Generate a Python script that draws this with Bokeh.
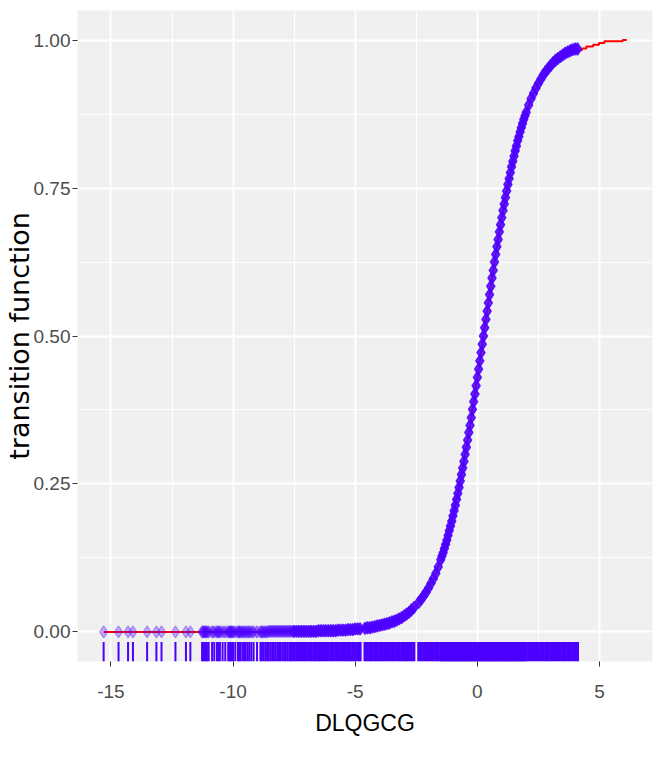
from bokeh.plotting import figure
from bokeh.models import Range1d, FixedTicker, NumeralTickFormatter, ColumnDataSource
from bokeh.embed import file_html
from bokeh.resources import INLINE

# ---------------- data ----------------
x_ticks = [-15, -10, -5, 0, 5]
x_tick_labels = ["-15", "-10", "-5", "0", "5"]
x_minor = [-12.5, -7.5, -2.5, 2.5]
y_ticks = [0.0, 0.25, 0.5, 0.75, 1.0]
y_tick_labels = ["0.00", "0.25", "0.50", "0.75", "1.00"]
y_minor = [0.125, 0.375, 0.625, 0.875]

# observations: left, sparse part (transition value ~ 0)
obs_x_left = [-15.30, -14.69, -14.30, -14.10, -13.52, -13.14, -12.93, -12.36, -11.93, -11.75,
              -11.27, -11.22, -11.17, -11.12, -11.07, -11.00, -10.86, -10.77, -10.66, -10.60,
              -10.54, -10.43, -10.32, -10.20, -10.15, -10.10, -10.05, -10.00, -9.91, -9.80,
              -9.75, -9.70, -9.62, -9.55, -9.48, -9.40, -9.33, -9.25, -9.16, -9.02,
              -8.88, -8.82, -8.75, -8.68, -8.61, -8.54, -8.47, -8.40, -8.33, -8.26,
              -8.19, -8.12, -8.05, -7.98, -7.91, -7.84, -7.77, -7.70, -7.63, -7.56]
obs_y_left = [0.000, 0.000, 0.000, 0.000, 0.000, 0.000, 0.000, 0.000, 0.000, 0.000,
              0.000, 0.000, 0.000, 0.000, 0.000, 0.000, 0.000, 0.000, 0.000, 0.000,
              0.000, 0.000, 0.000, 0.000, 0.000, 0.000, 0.000, 0.000, 0.000, 0.000,
              0.000, 0.000, 0.000, 0.000, 0.000, 0.000, 0.000, 0.000, 0.000, 0.000,
              0.000, 0.000, 0.000, 0.000, 0.000, 0.001, 0.001, 0.001, 0.001, 0.001,
              0.001, 0.001, 0.001, 0.001, 0.001, 0.001, 0.001, 0.001, 0.001, 0.001]

# observations: lower bend
obs_x_low = [-7.5, -7.4, -7.3, -7.2, -7.1, -7.0, -6.9, -6.8, -6.7, -6.6,
             -6.5, -6.4, -6.3, -6.2, -6.1, -6.0, -5.9, -5.8, -5.7, -5.6,
             -5.5, -5.4, -5.3, -5.2, -5.1, -5.0, -4.9, -4.8, -4.6, -4.5,
             -4.4, -4.3, -4.2, -4.1, -4.0, -3.9, -3.8, -3.7, -3.6, -3.5,
             -3.4, -3.3, -3.2, -3.1, -3.0, -2.9, -2.8, -2.7, -2.6, -2.4,
             -2.3, -2.2, -2.1, -2.0, -1.9, -1.8, -1.7, -1.6, -1.5]
obs_y_low = [0.001, 0.001, 0.001, 0.001, 0.001, 0.001, 0.001, 0.001, 0.001, 0.001,
             0.002, 0.002, 0.002, 0.002, 0.002, 0.002, 0.002, 0.002, 0.003, 0.003,
             0.003, 0.003, 0.004, 0.004, 0.004, 0.005, 0.005, 0.005, 0.006, 0.007,
             0.007, 0.008, 0.009, 0.010, 0.011, 0.012, 0.013, 0.014, 0.015, 0.017,
             0.018, 0.020, 0.022, 0.024, 0.027, 0.030, 0.033, 0.037, 0.041, 0.050,
             0.055, 0.061, 0.067, 0.074, 0.082, 0.090, 0.099, 0.110, 0.122]

# observations: steep middle part
obs_x_mid = [-1.45, -1.40, -1.35, -1.30, -1.25, -1.20, -1.15, -1.10, -1.05, -1.00,
             -0.95, -0.90, -0.85, -0.80, -0.75, -0.70, -0.65, -0.60, -0.55, -0.50,
             -0.45, -0.40, -0.35, -0.30, -0.25, -0.20, -0.15, -0.10, -0.05, 0.00,
             0.05, 0.10, 0.15, 0.20, 0.25, 0.30, 0.35, 0.40, 0.45, 0.50,
             0.55, 0.60, 0.65, 0.70, 0.75, 0.80, 0.85, 0.90, 0.95, 1.00,
             1.05, 1.10, 1.15, 1.20, 1.25, 1.30, 1.35, 1.40, 1.45, 1.50,
             1.55, 1.60, 1.65, 1.70, 1.75, 1.80, 1.85, 1.90, 1.95]
obs_y_mid = [0.128, 0.134, 0.141, 0.148, 0.155, 0.163, 0.171, 0.179, 0.187, 0.196,
             0.205, 0.214, 0.224, 0.234, 0.244, 0.255, 0.266, 0.277, 0.288, 0.300,
             0.312, 0.324, 0.337, 0.349, 0.362, 0.376, 0.389, 0.402, 0.416, 0.430,
             0.444, 0.458, 0.472, 0.486, 0.500, 0.514, 0.528, 0.542, 0.556, 0.570,
             0.584, 0.598, 0.611, 0.625, 0.638, 0.651, 0.663, 0.676, 0.688, 0.700,
             0.712, 0.723, 0.734, 0.745, 0.756, 0.766, 0.776, 0.786, 0.795, 0.804,
             0.813, 0.821, 0.830, 0.837, 0.845, 0.852, 0.859, 0.866, 0.872]

# observations: upper bend
obs_x_high = [2.0, 2.1, 2.2, 2.3, 2.4, 2.5, 2.6, 2.7, 2.8, 2.9, 3.0,
              3.1, 3.2, 3.3, 3.4, 3.5, 3.6, 3.7, 3.8, 3.9, 4.0, 4.1]
obs_y_high = [0.878, 0.890, 0.901, 0.910, 0.919, 0.927, 0.934, 0.941, 0.947, 0.952, 0.957,
              0.962, 0.966, 0.969, 0.972, 0.975, 0.978, 0.980, 0.982, 0.984, 0.985, 0.985]

# fitted transition curve (red line)
curve_x = [-15.30, -11.30, -9.00, -7.50, -6.50, -5.50, -5.00, -4.50, -4.00, -3.50,
           -3.00, -2.50, -2.00, -1.75, -1.50, -1.25, -1.00, -0.75, -0.50, -0.25,
           0.00, 0.25, 0.50, 0.75, 1.00, 1.25, 1.50, 1.75, 2.00, 2.25,
           2.50, 2.75, 3.00, 3.50, 4.10, 4.28, 4.28, 4.46, 4.46, 4.74,
           4.74, 4.98, 4.98, 5.20, 5.20, 5.95, 5.95, 6.12]
curve_y = [0.000, 0.000, 0.000, 0.001, 0.002, 0.003, 0.005, 0.007, 0.011, 0.017,
           0.027, 0.045, 0.074, 0.094, 0.122, 0.155, 0.196, 0.244, 0.300, 0.362,
           0.430, 0.500, 0.570, 0.638, 0.700, 0.756, 0.804, 0.845, 0.878, 0.905,
           0.927, 0.944, 0.957, 0.975, 0.983, 0.983, 0.986, 0.986, 0.989, 0.989,
           0.992, 0.992, 0.995, 0.995, 0.998, 0.998, 1.000, 1.000]

x_label = "DLQGCG"
y_label = "transition function"

# ---------------- styling ----------------
PURPLE = "#4C00FF"
TICK_FONT = "Liberation Sans"

obs_x = obs_x_left + obs_x_low + obs_x_mid + obs_x_high
obs_y = obs_y_left + obs_y_low + obs_y_mid + obs_y_high

# marker opacity: isolated points look light, dense regions saturate
alphas = [0.3 if xx < -11.3 else (0.45 if xx < -7.5 else 0.85) for xx in obs_x]
rug_w = [2 if xx < -7.5 else 3 for xx in obs_x]

y_lo, y_hi = -0.05, 1.05
rug_len = 0.033
src = ColumnDataSource(dict(x=obs_x, y=obs_y, a=alphas, w=rug_w,
                            r0=[y_lo] * len(obs_x), r1=[y_lo + rug_len] * len(obs_x)))

p = figure(width=664, height=761,
           x_range=Range1d(-16.37, 7.17), y_range=Range1d(y_lo, y_hi),
           output_backend="svg", toolbar_location=None,
           min_border_left=77, min_border_right=12, min_border_top=10, min_border_bottom=100)

p.background_fill_color = "#F0F0F0"
p.border_fill_color = "white"
p.outline_line_color = None

p.xaxis.ticker = FixedTicker(ticks=x_ticks, minor_ticks=x_minor)
p.yaxis.ticker = FixedTicker(ticks=y_ticks, minor_ticks=y_minor)
p.xaxis.major_label_overrides = {t: l for t, l in zip(x_ticks, x_tick_labels)}
p.yaxis.formatter = NumeralTickFormatter(format="0.00")
p.yaxis.major_label_overrides = {t: l for t, l in zip(y_ticks, y_tick_labels)}

for g in (p.xgrid, p.ygrid):
    g.grid_line_color = "white"
    g.grid_line_width = 2
    g.minor_grid_line_color = "white"
    g.minor_grid_line_width = 1

for ax in (p.xaxis, p.yaxis):
    ax.axis_line_color = None
    ax.major_tick_line_color = "#333333"
    ax.major_tick_line_width = 1
    ax.major_tick_out = 5
    ax.major_tick_in = 0
    ax.minor_tick_out = 0
    ax.minor_tick_in = 0
    ax.major_label_text_font = TICK_FONT
    ax.major_label_text_font_size = "19px"
    ax.major_label_text_color = "#4D4D4D"
    ax.axis_label_text_font_style = "normal"
    ax.axis_label_text_color = "black"

p.xaxis.axis_label = x_label
p.xaxis.axis_label_text_font = "Liberation Sans"
p.xaxis.axis_label_text_font_size = "23px"
p.xaxis.major_label_standoff = 18
p.xaxis.axis_label_standoff = 9

p.yaxis.axis_label = y_label
p.yaxis.axis_label_text_font = "DejaVu Sans"
p.yaxis.axis_label_text_font_size = "27px"
p.yaxis.major_label_standoff = 2
p.yaxis.axis_label_standoff = -4

# red fitted line
p.line(curve_x, curve_y, line_color="#FF0000", line_width=2)
# observations
p.scatter("x", "y", source=src, marker="diamond", size=12,
          fill_color=PURPLE, fill_alpha="a", line_color=PURPLE, line_alpha="a", line_width=1.5)
# rug
p.segment(x0="x", y0="r0", x1="x", y1="r1", source=src, line_color=PURPLE, line_width="w")

open("out.html", "w").write(file_html(p, INLINE))
